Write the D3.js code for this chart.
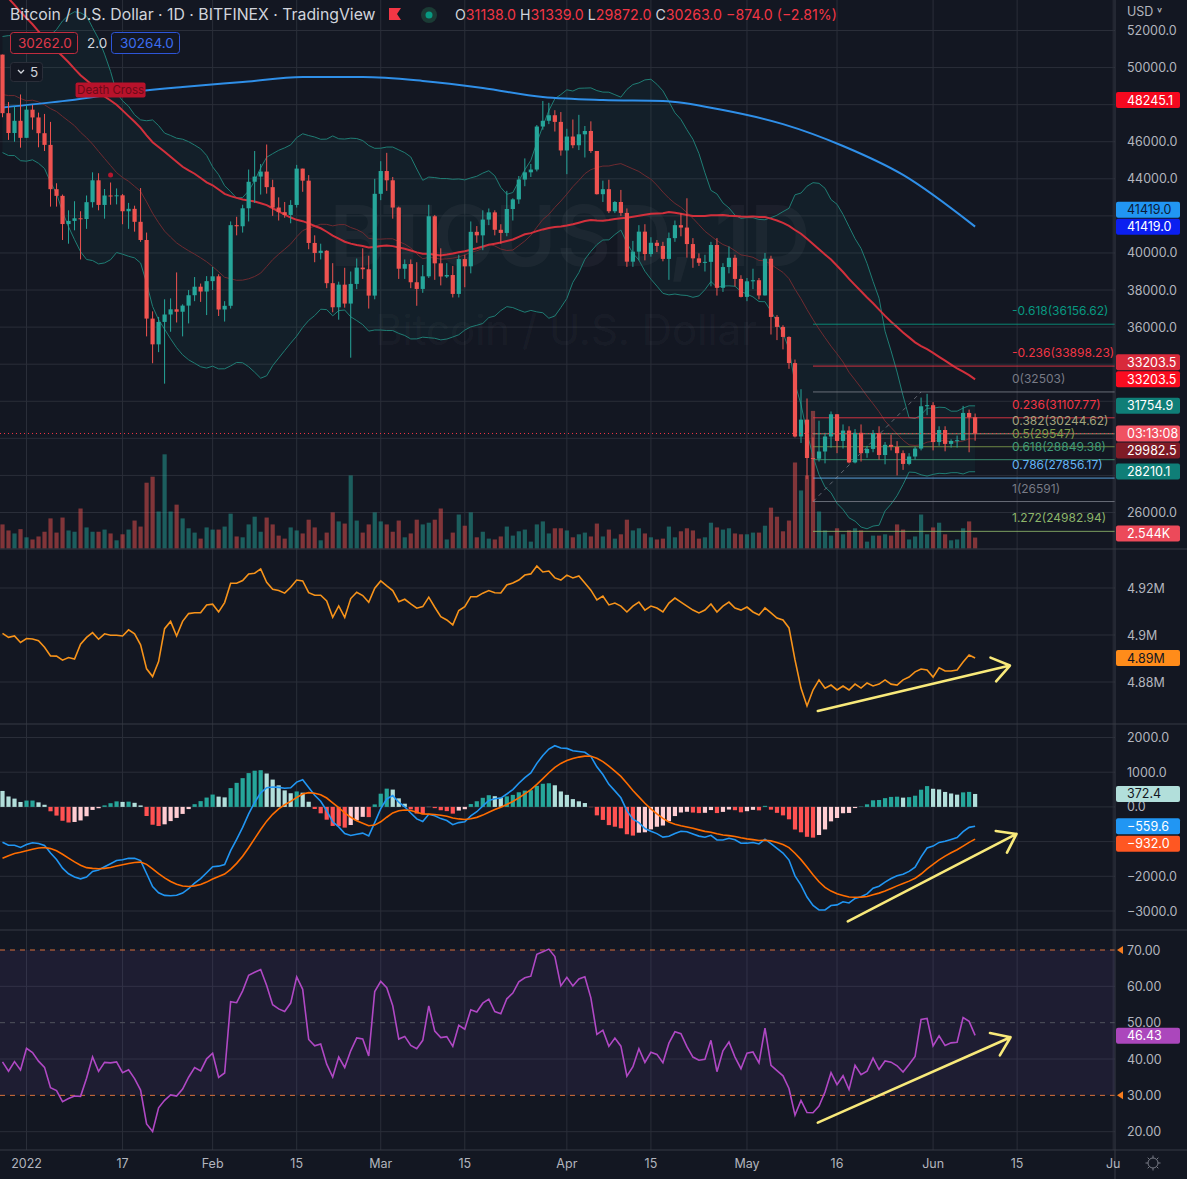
<!DOCTYPE html>
<html><head><meta charset="utf-8">
<script src="https://cdn.jsdelivr.net/npm/d3@7"></script>
<style>
body{margin:0;background:#131722;overflow:hidden}
svg{display:block;font-family:Inter,"Noto Sans",sans-serif}
</style></head><body>
<div id="chart"></div>
<script>
// ---- data ----
const startDate = "2021-12-28";
// daily [open, high, low, close], Dec 28 2021 .. Jun 8 2022
const candles = [
[50700,50700,47320,47540],[47540,48140,46100,46470],[46470,47900,46000,47130],[47130,48550,45680,46210],
[46210,47950,46210,47730],[47730,47990,46650,47310],[47310,47570,45700,46460],[46460,47500,45500,45830],
[45830,47070,42500,43440],[43440,43760,42500,43080],[43080,43150,40700,41560],[41560,42300,40500,41730],
[41730,42790,41220,41870],[41870,42250,39650,41830],[41830,43100,41300,42740],[42740,44350,42450,43920],
[43920,44300,42300,42590],[42590,43450,41850,43100],[43100,43800,42600,43060],[43060,43480,42620,43110],
[43110,43180,41550,42250],[42250,42700,41300,42380],[42380,42550,41150,41680],[41680,43500,40600,40700],
[40700,41100,35500,36460],[36460,36850,34050,35070],[35070,36550,34650,36280],[36280,37500,32950,36680],
[36680,37550,35750,36960],[36960,38950,36250,36830],[36830,37230,35500,37160],[37160,38000,36200,37720],
[37720,38700,37400,38180],[38180,38350,37360,37920],[37920,38750,36650,38480],
[38480,39250,38000,38740],[38740,38850,36600,36950],[36950,37400,36300,37150],[37150,41700,37000,41500],
[41500,41950,40950,41440],[41440,42600,41100,42410],[42410,44500,41700,43840],[43840,45500,42700,44120],
[44120,44800,43150,44390],[44390,45850,43200,43550],[43550,43950,42000,42450],[42450,43000,41750,42200],
[42200,42750,41900,42050],[42050,42850,41600,42590],[42590,44750,42450,44550],[44550,44550,43300,43900],
[43900,44200,40200,40540],[40540,40950,39500,40000],[40000,40500,39650,40120],[40120,40150,38100,38370],
[38370,39450,36800,37070],[37070,38450,36400,38290],[38290,39200,37050,37270],[37270,39000,34350,38330],
[38330,39700,38050,39210],[39210,40250,38600,39120],[39120,39850,37000,37700],[37700,44000,37500,43190],
[43190,44950,42850,44420],[44420,45400,43350,43920],[43920,44100,41850,42450],[42450,42500,38600,39150],
[39150,39650,38600,39400],[39400,39650,38100,38420],[38420,39500,37150,38060],[38060,39350,37850,38740],
[38740,42600,38650,41980],[41980,42050,38550,39440],[39440,40250,38250,38730],[38730,39450,38650,38810],
[38810,39300,37600,37790],[37790,39900,37600,39670],[39670,39900,38150,39280],[39280,41700,38900,41140],
[41140,41450,40550,40950],[40950,42300,40150,41800],[41800,42400,41500,42190],[42190,42300,40950,41250],
[41250,41550,40500,41080],[41080,43350,40900,42370],[42370,42950,41750,42890],[42890,44150,42650,43960],
[43960,45100,43600,44350],[44350,44800,44100,44500],[44500,46900,44400,46820],[46820,48200,46650,47130],
[47130,48100,46950,47430],[47430,47700,46550,47070],[47070,47600,45250,45530],
[45530,46700,44250,46280],[46280,47200,45650,45810],[45810,47450,45550,46400],[46400,46850,45150,46580],
[46580,47100,45400,45500],[45500,45500,43150,43170],[43170,43900,42750,43440],[43440,43950,42150,42250],
[42250,42800,42150,42750],[42750,43400,42000,42160],[42160,42400,39250,39530],[39530,40650,39250,40070],
[40070,41500,39600,41150],[41150,41550,39600,39940],[39940,40850,39800,40550],[40550,40700,40050,40380],
[40380,40600,39550,39680],[39680,41100,38550,40800],[40800,41750,40600,41500],[41500,42150,40900,41370],
[41370,42950,39750,40480],[40480,40800,39200,39710],[39710,39980,39300,39470],[39470,39900,39000,39520],
[39520,40600,38200,40430],[40430,40800,37700,38120],[38120,39450,37900,39240],[39240,40350,38900,39740],
[39740,39900,38200,38600],[38600,38800,37600,37630],
[37630,38650,37400,38470],[38470,39150,38050,38530],[38530,38650,37500,37710],[37710,40000,37700,39690],
[39690,39850,35600,36550],[36550,36650,35300,36010],[36010,36100,34800,35470],[35470,35500,33750,34060],
[34060,34250,30050,30100],[30100,32650,29750,31010],[31010,32150,27800,28940],[28940,30050,26591,28900],
[28900,30950,28750,29290],[29290,30300,28650,30100],[30100,31450,29500,31300],[31300,31300,29200,29860],
[29860,30750,29450,30420],[30420,30650,28650,28700],[28700,30500,28650,30300],[30300,30750,28750,29200],
[29200,29600,28950,29430],[29430,30450,29250,30290],[30290,30650,28850,29100],[29100,29800,28600,29650],
[29650,30200,29350,29540],[29540,29850,28000,29200],[29200,29350,28300,28620],[28620,29200,28550,29020],
[29020,29550,28850,29450],[29450,32200,29350,31730],[31730,32400,31250,31790],
[31790,31950,29350,29800],[29800,30650,29600,30450],[30450,30650,29300,29700],[29700,29950,29500,29860],
[29860,30150,29500,29900],[29900,31750,29900,31370],[31370,31550,29250,31137],[31138,31339,29872,30263]
];
// daily volume, thousands of BTC
const volumes = [
5.6,4.2,3.5,4.5,2.6,2.1,2.8,3.9,7.0,3.7,7.2,4.2,3.9,9.3,4.9,3.9,3.9,4.4,3.5,1.9,
3.3,4.4,6.5,5.1,15.3,16.7,8.6,21.9,8.6,10.2,7.0,4.7,3.7,2.3,4.9,4.4,4.4,5.1,8.1,2.8,
2.6,5.6,7.4,3.9,7.2,5.6,3.0,2.3,4.9,4.2,3.5,6.7,4.9,1.9,3.7,8.4,6.3,5.8,17.0,6.5,
3.7,5.6,8.4,6.3,5.6,3.9,6.5,2.6,3.5,6.7,5.6,6.0,6.7,9.3,2.1,3.7,7.9,5.3,8.4,2.6,
3.9,2.3,2.1,2.8,5.1,3.0,4.0,4.4,1.6,5.6,6.3,3.5,4.7,4.7,4.2,2.6,3.3,3.7,2.8,5.8,
2.8,4.4,2.3,3.3,6.7,4.2,4.7,3.5,2.6,2.1,2.3,5.1,2.6,4.0,4.7,4.2,2.3,2.6,6.0,4.9,
4.4,4.7,3.5,3.3,3.3,3.7,3.7,5.3,9.5,7.4,4.0,6.5,20.0,13.5,17.0,32.0,8.6,4.2,3.0,4.7,
3.3,4.2,4.7,4.2,1.6,3.0,3.0,3.3,3.0,5.6,4.4,2.1,2.8,7.9,3.3,4.9,6.0,3.3,1.9,2.1,
4.7,6.3,2.544
];
// closes Nov 9 .. Dec 27 2021, used to warm up the indicators
const priorCloses = [
66950,64930,64860,64160,64400,65500,63620,60100,60370,56940,58120,59700,58730,56290,57570,57160,
58960,53730,54720,57270,57810,56950,57180,56480,53600,49150,49400,50540,50620,50500,47580,47140,
49390,50100,46720,48380,48870,47640,46150,46850,46700,46920,48910,48620,50820,50430,50810,50640,50700
];
// volume-flow line of the second pane (millions)
const flowValues = [
4.9007,4.8990,4.8996,4.8968,4.8985,4.8983,4.8976,4.8948,4.8911,4.8910,4.8893,4.8904,4.8898,4.8961,4.8990,4.9010,
4.8982,4.9005,4.8999,4.8999,4.8996,4.9022,4.9005,4.8958,4.8856,4.8823,4.8887,4.9027,4.9058,4.8996,4.9058,4.9091,
4.9095,4.9095,4.9128,4.9131,4.9098,4.9138,4.9220,4.9220,4.9232,4.9260,4.9263,4.9281,4.9224,4.9195,4.9189,4.9178,
4.9203,4.9234,4.9230,4.9180,4.9169,4.9169,4.9145,4.9075,4.9124,4.9075,4.9155,4.9182,4.9168,4.9139,4.9199,4.9230,
4.9209,4.9189,4.9142,4.9152,4.9132,4.9114,4.9121,4.9161,4.9118,4.9078,4.9064,4.9043,4.9104,4.9121,4.9163,4.9163,
4.9178,4.9189,4.9180,4.9179,4.9213,4.9221,4.9234,4.9255,4.9260,4.9294,4.9268,4.9272,4.9243,4.9234,4.9255,4.9243,
4.9251,4.9221,4.9191,4.9149,4.9166,4.9128,4.9136,4.9123,4.9098,4.9123,4.9140,4.9106,4.9123,4.9115,4.9098,4.9136,
4.9157,4.9140,4.9123,4.9106,4.9094,4.9106,4.9132,4.9098,4.9123,4.9140,4.9115,4.9106,4.9119,4.9098,4.9085,4.9115,
4.9094,4.9072,4.9064,4.9030,4.8894,4.8774,4.8698,4.8766,4.8809,4.8774,4.8787,4.8766,4.8783,4.8766,4.8791,4.8774,
4.8796,4.8783,4.8791,4.8809,4.8791,4.8787,4.8809,4.8821,4.8843,4.8855,4.8851,4.8821,4.8860,4.8847,4.8847,4.8851,
4.8885,4.8915,4.8902
];
// 200-day moving average: [candle index, value]
const sma200Points = [
[0,47850],[10,48190],[20,48630],[30,48950],[40,49220],[50,49490],[60,49490],[70,49280],[80,48900],
[90,48410],[100,48250],[110,48200],[120,47710],[130,46950],[140,45770],[150,44210],[162,41419]
];
const macdSeed = {fast: 48480, slow: 49500, signal: -1480};
const fibLevels = [
  {level: "-0.618", price: 36156.62, color: "#089981"},
  {level: "-0.236", price: 33898.23, color: "#f23645"},
  {level: "0", price: 32503, color: "#787b86"},
  {level: "0.236", price: 31107.77, color: "#f23645"},
  {level: "0.382", price: 30244.62, color: "#a3a47e"},
  {level: "0.5", price: 29547, color: "#7f9c4c"},
  {level: "0.618", price: 28849.38, color: "#3f9c78"},
  {level: "0.786", price: 27856.17, color: "#64b5f6"},
  {level: "1", price: 26591, color: "#787b86"},
  {level: "1.272", price: 24982.94, color: "#8db56a"}
];
const fibStart = 135, fibEnd = 153; // candle indices of the fib anchors
const priceTicks = [52000,50000,48000,46000,44000,42000,40000,38000,36000,34000,32000,30000,28000,26000];
const flowTicks = [4.92, 4.9, 4.88];
const macdTicks = [2000, 1000, 0, -1000, -2000, -3000];
const rsiTicks = [70, 60, 50, 40, 30, 20];
const timeTicks = [
  ["2022-01-01","2022"],["2022-01-17","17"],["2022-02-01","Feb"],["2022-02-15","15"],["2022-03-01","Mar"],
  ["2022-03-15","15"],["2022-04-01","Apr"],["2022-04-15","15"],["2022-05-01","May"],["2022-05-16","16"],
  ["2022-06-01","Jun"],["2022-06-15","15"],["2022-07-01","Ju"]
];
// trend arrows drawn on the lower panes: [from index, from value, to index, to value]
const flowArrow = [135.8, 4.8677, 167.8, 4.8870];
const macdArrow = [140.8, -3300, 168.9, -780];
const rsiArrow = [135.8, 22.5, 167.9, 46.0];

// ---- layout ----
const W = 1187, H = 1179, plotR = 1115;
const dates = candles.map((d, i) => d3.utcDay.offset(new Date(startDate), i));
const closes = candles.map(d => d[3]);
const x = d3.scaleUtc().domain([dates[0], new Date("2022-07-01")]).range([2.5, 1113.2]);
const xi = i => x(dates[0]) + (x(dates[1]) - x(dates[0])) * i;
const yP = d3.scaleLinear().domain([26000, 52000]).range([512.5, 30.5]);
const yV = d3.scaleLinear().domain([0, 40]).range([548.5, 376.5]);
const yF = d3.scaleLinear().domain([4.88, 4.92]).range([682, 588]);
const yM = d3.scaleLinear().domain([-3000, 2000]).range([911, 737.5]);
const yR = d3.scaleLinear().domain([20, 70]).range([1131.7, 950]);
const bw = 4.2;

// ---- indicators ----
const all = priorCloses.concat(closes), off = priorCloses.length;
const bb = closes.map((c, i) => {
  const w = all.slice(i + off - 19, i + off + 1), m = d3.mean(w);
  const sd = Math.sqrt(d3.mean(w, v => (v - m) * (v - m)));
  return {m, u: m + 2 * sd, l: m - 2 * sd};
});
const sma50 = closes.map((c, i) => d3.mean(all.slice(i + off - 49, i + off + 1)));
let e12 = macdSeed.fast, e26 = macdSeed.slow, sg = macdSeed.signal;
const macd = closes.map((c, i) => {
  if (i > 0) { e12 += (c - e12) * 2 / 13; e26 += (c - e26) * 2 / 27; sg += ((e12 - e26) - sg) * 2 / 10; }
  return {m: e12 - e26, s: sg, h: e12 - e26 - sg};
});
let ag = 0, al = 0;
for (let k = 1; k <= 14; k++) { const d = all[k] - all[k - 1]; ag += Math.max(d, 0) / 14; al += Math.max(-d, 0) / 14; }
const rsiAll = [];
for (let k = 15; k < all.length; k++) {
  const d = all[k] - all[k - 1];
  ag = (ag * 13 + Math.max(d, 0)) / 14; al = (al * 13 + Math.max(-d, 0)) / 14;
  rsiAll[k] = 100 - 100 / (1 + ag / al);
}
const rsi = closes.map((c, i) => rsiAll[i + off]);

// ---- drawing ----
const svg = d3.select("#chart").append("svg").attr("width", W).attr("height", H);
svg.append("rect").attr("width", W).attr("height", H).attr("fill", "#131722");
const defs = svg.append("defs");
function clip(id, y0, y1) {
  defs.append("clipPath").attr("id", id).append("rect").attr("x", 0).attr("y", y0).attr("width", plotR).attr("height", y1 - y0);
  return svg.append("g").attr("clip-path", `url(#${id})`);
}
const gridC = "#2a2e39";
// vertical grid
svg.append("g").selectAll("line").data(timeTicks).join("line")
  .attr("x1", d => x(new Date(d[0]))).attr("x2", d => x(new Date(d[0])))
  .attr("y1", 0).attr("y2", 1150).attr("stroke", gridC);
function hgrid(vals, sc) {
  svg.append("g").selectAll("line").data(vals).join("line")
    .attr("x1", 0).attr("x2", plotR).attr("y1", d => sc(d)).attr("y2", d => sc(d)).attr("stroke", gridC);
}
hgrid(priceTicks, yP); hgrid(flowTicks, yF); hgrid(macdTicks, yM); hgrid([60, 40, 20], yR);

// watermark
svg.append("text").attr("x", 570).attr("y", 266).attr("text-anchor", "middle").attr("font-size", 84)
  .attr("font-weight", 600).attr("fill", "rgba(200,205,215,0.05)").text("BTCUSD, 1D");
svg.append("text").attr("x", 566).attr("y", 345).attr("text-anchor", "middle").attr("font-size", 42)
  .attr("fill", "rgba(200,205,215,0.05)").text("Bitcoin / U.S. Dollar");

// main pane
const gM = clip("cm", 0, 549);
gM.selectAll(".vol").data(volumes).join("rect")
  .attr("x", (d, i) => xi(i) - bw / 2).attr("width", bw)
  .attr("y", d => yV(d)).attr("height", d => yV(0) - yV(d))
  .attr("fill", (d, i) => candles[i][3] >= candles[i][0] ? "rgba(38,166,154,0.5)" : "rgba(239,83,80,0.5)");
const area = d3.area().x((d, i) => xi(i)).y0(d => yP(d.l)).y1(d => yP(d.u));
gM.append("path").datum(bb).attr("d", area).attr("fill", "rgba(38,166,154,0.06)");
const ln = (acc, sc) => d3.line().x((d, i) => xi(i)).y(d => sc(acc(d)));
gM.append("path").datum(bb).attr("d", ln(d => d.u, yP)).attr("fill", "none").attr("stroke", "#1f7d74").attr("stroke-width", 1);
gM.append("path").datum(bb).attr("d", ln(d => d.l, yP)).attr("fill", "none").attr("stroke", "#1f7d74").attr("stroke-width", 1);
gM.append("path").datum(bb).attr("d", ln(d => d.m, yP)).attr("fill", "none").attr("stroke", "#6e2a30").attr("stroke-width", 1);
gM.append("path").datum(sma50).attr("d", ln(d => d, yP)).attr("fill", "none").attr("stroke", "#d2303c").attr("stroke-width", 2);
gM.append("path").datum(sma200Points)
  .attr("d", d3.line().curve(d3.curveMonotoneX).x(d => xi(d[0])).y(d => yP(d[1])))
  .attr("fill", "none").attr("stroke", "#2f8fe8").attr("stroke-width", 2);

// fibonacci
const fx0 = xi(fibStart);
gM.selectAll(".fib").data(fibLevels).join("line")
  .attr("x1", fx0).attr("x2", plotR).attr("y1", d => yP(d.price)).attr("y2", d => yP(d.price))
  .attr("stroke", d => d.color).attr("stroke-opacity", 0.85);
gM.append("line").attr("x1", fx0).attr("y1", yP(fibLevels[8].price)).attr("x2", xi(fibEnd)).attr("y2", yP(fibLevels[2].price))
  .attr("stroke", "#9598a1").attr("stroke-opacity", 0.6).attr("stroke-dasharray", "4,4");
svg.selectAll(".fibt").data(fibLevels).join("text")
  .attr("x", 1012).attr("y", d => yP(d.price) - 9).attr("font-size", 12)
  .attr("fill", d => d.color).text(d => `${d.level}(${d.price})`);

// candles
const cg = gM.selectAll(".c").data(candles).join("g")
  .attr("stroke", d => d[3] >= d[0] ? "#26a69a" : "#ef5350").attr("fill", d => d[3] >= d[0] ? "#26a69a" : "#ef5350");
cg.append("line").attr("x1", (d, i) => xi(i)).attr("x2", (d, i) => xi(i)).attr("y1", d => yP(d[1])).attr("y2", d => yP(d[2]));
cg.append("rect").attr("stroke", "none").attr("x", (d, i) => xi(i) - bw / 2).attr("width", bw)
  .attr("y", d => yP(Math.max(d[0], d[3]))).attr("height", d => Math.max(1, Math.abs(yP(d[0]) - yP(d[3]))));

// death cross marker
const dcI = 18, dcY = yP(48790);
svg.append("circle").attr("cx", xi(dcI)).attr("cy", yP(44200)).attr("r", 2.5).attr("fill", "#b5172e");
svg.append("rect").attr("x", xi(dcI) - 35).attr("y", dcY - 7.5).attr("width", 70).attr("height", 15).attr("rx", 2).attr("fill", "#b8122b");
svg.append("text").attr("x", xi(dcI)).attr("y", dcY + 4).attr("text-anchor", "middle").attr("font-size", 11.5).attr("fill", "#6b0a18").text("Death Cross");

// current price line
const last = closes[closes.length - 1];
svg.append("line").attr("x1", 0).attr("x2", plotR).attr("y1", yP(last)).attr("y2", yP(last))
  .attr("stroke", "#f23645").attr("stroke-dasharray", "1,3").attr("stroke-width", 1);

// flow pane
const gF = clip("cf", 549, 724);
gF.append("path").datum(flowValues).attr("d", ln(d => d, yF)).attr("fill", "none").attr("stroke", "#f7931a").attr("stroke-width", 1.6);

// macd pane
const gD = clip("cd", 724, 930);
gD.selectAll(".h").data(macd).join("rect")
  .attr("x", (d, i) => xi(i) - bw / 2).attr("width", bw)
  .attr("y", d => Math.min(yM(d.h), yM(0))).attr("height", d => Math.abs(yM(d.h) - yM(0)))
  .attr("fill", (d, i) => {
    const p = i > 0 ? macd[i - 1].h : d.h;
    return d.h >= 0 ? (d.h > p ? "#26a69a" : "#b2dfdb") : (d.h < p ? "#ff5252" : "#ffcdd2");
  });
gD.append("path").datum(macd).attr("d", ln(d => d.m, yM)).attr("fill", "none").attr("stroke", "#2196f3").attr("stroke-width", 1.6);
gD.append("path").datum(macd).attr("d", ln(d => d.s, yM)).attr("fill", "none").attr("stroke", "#ff6d00").attr("stroke-width", 1.6);

// rsi pane
const gR = clip("cr", 930, 1150);
gR.append("rect").attr("x", 0).attr("width", plotR).attr("y", yR(70)).attr("height", yR(30) - yR(70)).attr("fill", "rgba(126,87,194,0.1)");
gR.selectAll(".band").data([70, 30]).join("line").attr("x1", 0).attr("x2", plotR).attr("y1", d => yR(d)).attr("y2", d => yR(d))
  .attr("stroke", "#d9713a").attr("stroke-dasharray", "5,5");
gR.append("line").attr("x1", 0).attr("x2", plotR).attr("y1", yR(50)).attr("y2", yR(50)).attr("stroke", "#50535e").attr("stroke-dasharray", "5,5");
gR.append("path").datum(rsi).attr("d", ln(d => d, yR)).attr("fill", "none").attr("stroke", "#b048c4").attr("stroke-width", 1.6);

// arrows
function arrow(a, sc) {
  const x0 = xi(a[0]), y0 = sc(a[1]), x1 = xi(a[2]), y1 = sc(a[3]);
  const ang = Math.atan2(y1 - y0, x1 - x0), L = 21, s = 0.62;
  const p = d3.path();
  p.moveTo(x0, y0); p.lineTo(x1, y1);
  p.moveTo(x1 - L * Math.cos(ang - s), y1 - L * Math.sin(ang - s)); p.lineTo(x1, y1);
  p.lineTo(x1 - L * Math.cos(ang + s), y1 - L * Math.sin(ang + s));
  svg.append("path").attr("d", p.toString()).attr("fill", "none").attr("stroke", "#f8e97a").attr("stroke-width", 2.6)
    .attr("stroke-linecap", "round").attr("stroke-linejoin", "round");
}
arrow(flowArrow, yF); arrow(macdArrow, yM); arrow(rsiArrow, yR);

// pane borders
[549, 724, 930, 1150].forEach(y => svg.append("line").attr("x1", 0).attr("x2", W).attr("y1", y).attr("y2", y).attr("stroke", "#363a45"));
svg.append("line").attr("x1", plotR).attr("x2", plotR).attr("y1", 0).attr("y2", H).attr("stroke", "#363a45");

// value labels on the price scale (they hide the tick labels they cover)
const f1 = d3.format(".1f"), n = closes.length - 1, last200 = sma200Points[sma200Points.length - 1][1];
const tags = [
  [yP(48245.1), "48245.1", "#f5091f", "#fff"],
  [yP(last200) - 17, f1(last200), "#2196f3", "#0d1b36"],
  [yP(last200), f1(last200), "#0b1ff0", "#fff"],
  [yP(sma50[n]) - 17, f1(33203.5), "#d82a3b", "#fff"],
  [yP(sma50[n]), f1(33203.5), "#fb0c20", "#fff"],
  [yP(31754.9), "31754.9", "#0f7e77", "#fff"],
  [yP(last), "03:13:08", "#f05262", "#fff"],
  [yP(last) + 17, "29982.5", "#7f1b26", "#fff"],
  [yP(28210.1), "28210.1", "#0f7e77", "#fff"],
  [yV(volumes[n]) - 4, "2.544K", "#ec4a5a", "#fff"],
  [yF(flowValues[n]), "4.89M", "#ff8c1a", "#131722"],
  [yM(372.4), "372.4", "#b2dfdb", "#131722"],
  [yM(-559.6), "\u2212559.6", "#2196f3", "#fff"],
  [yM(-559.6) + 17.5, "\u2212932.0", "#ff5722", "#fff"],
  [yR(46.43), "46.43", "#ab47bc", "#fff"]
];
const covered = y => tags.some(t => Math.abs(t[0] - y) < 11);

// axis ticks
const axC = "#b2b5be", fs = 12.5;
function ticks(vals, sc, fmt) {
  svg.append("g").selectAll("text").data(vals.filter(v => !covered(sc(v)))).join("text")
    .attr("x", 1127).attr("y", d => sc(d) + 4.5)
    .attr("font-size", fs).attr("fill", axC).text(fmt);
}
const minus = s => s.replace("-", "\u2212");
ticks(priceTicks, yP, d => d3.format(".1f")(d));
ticks(flowTicks, yF, d => d + "M");
ticks(macdTicks, yM, d => minus(d3.format(".1f")(d)));
ticks(rsiTicks, yR, d => d3.format(".2f")(d));
svg.append("text").attr("x", 1127).attr("y", 16).attr("font-size", fs).attr("fill", axC).text("USD \u02c5");
[70, 30].forEach(v => svg.append("path").attr("d", `M1117,${yR(v)}L1123,${yR(v) - 4}L1123,${yR(v) + 4}Z`).attr("fill", "#f57c1f"));

tags.forEach(([y, text, bg, fg]) => {
  svg.append("rect").attr("x", 1116).attr("y", y - 8).attr("width", 64).attr("height", 16).attr("rx", 2).attr("fill", bg);
  svg.append("text").attr("x", 1127).attr("y", y + 4.5).attr("font-size", fs).attr("fill", fg).text(text);
});

svg.append("g").selectAll("text").data(timeTicks).join("text")
  .attr("x", d => x(new Date(d[0]))).attr("y", 1168).attr("text-anchor", "middle")
  .attr("font-size", fs).attr("fill", axC).text(d => d[1]);
// gear icon
const gear = svg.append("g").attr("transform", "translate(1153,1163)").attr("stroke", "#787b86").attr("fill", "none");
gear.append("circle").attr("r", 5);
d3.range(8).forEach(k => { const a = k * Math.PI / 4; gear.append("line").attr("x1", 5 * Math.cos(a)).attr("y1", 5 * Math.sin(a)).attr("x2", 7.5 * Math.cos(a)).attr("y2", 7.5 * Math.sin(a)); });

// header
const hd = svg.append("g");
hd.append("text").attr("x", 10).attr("y", 20).attr("font-size", 15.8).attr("fill", "#d1d4dc")
  .text("Bitcoin / U.S. Dollar \u00b7 1D \u00b7 BITFINEX \u00b7 TradingView");
hd.append("path").attr("d", "M389,8h12l-4,6l4,6h-12z").attr("fill", "#f23645");
hd.append("circle").attr("cx", 429).attr("cy", 15).attr("r", 8).attr("fill", "#1b3b35");
hd.append("circle").attr("cx", 429).attr("cy", 15).attr("r", 3.5).attr("fill", "#089981");
const ohlc = [["O", "31138.0"], ["H", "31339.0"], ["L", "29872.0"], ["C", "30263.0"], ["", "\u2212874.0 (\u22122.81%)"]];
const ot = hd.append("text").attr("x", 455).attr("y", 20).attr("font-size", 14.2);
ohlc.forEach(d => {
  ot.append("tspan").attr("fill", "#d1d4dc").text(d[0]);
  ot.append("tspan").attr("fill", "#f23645").text(d[1] + " ");
});
hd.append("rect").attr("x", 10.5).attr("y", 32.5).attr("width", 67).attr("height", 21).attr("rx", 3).attr("fill", "#131722").attr("stroke", "#c02c3e");
hd.append("text").attr("x", 18).attr("y", 48).attr("font-size", 13.5).attr("fill", "#e0394b").text("30262.0");
hd.append("text").attr("x", 87).attr("y", 48).attr("font-size", 13.5).attr("fill", "#d1d4dc").text("2.0");
hd.append("rect").attr("x", 111.5).attr("y", 32.5).attr("width", 68).attr("height", 21).attr("rx", 3).attr("fill", "#131722").attr("stroke", "#2d55d8");
hd.append("text").attr("x", 120).attr("y", 48).attr("font-size", 13.5).attr("fill", "#3c6ef0").text("30264.0");
hd.append("rect").attr("x", 10.5).attr("y", 62.5).attr("width", 32).attr("height", 19).attr("rx", 3).attr("fill", "#131722").attr("stroke", "#2a2e39");
hd.append("path").attr("d", "M18,70l3,3l3,-3").attr("fill", "none").attr("stroke", "#d1d4dc").attr("stroke-width", 1.3);
hd.append("text").attr("x", 30).attr("y", 77).attr("font-size", 13.5).attr("fill", "#d1d4dc").text("5");
</script>
</body></html>
